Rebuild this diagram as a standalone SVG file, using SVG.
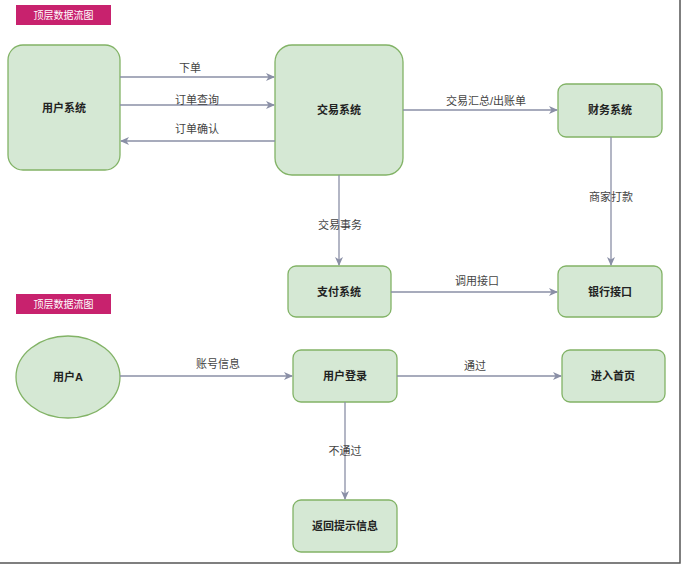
<svg xmlns="http://www.w3.org/2000/svg" width="683" height="567" viewBox="0 0 683 567">
<style>
.n{fill:#d5e8d4;stroke:#82b366;stroke-width:1.3}
.t{font-family:"Liberation Sans","Noto Sans CJK SC",sans-serif;font-size:11px;font-weight:bold;fill:#222;text-anchor:middle}
.l{font-family:"Liberation Sans","Noto Sans CJK SC",sans-serif;font-size:11px;fill:#444;text-anchor:middle}
.e{stroke:#8a8fa6;stroke-width:1.3;fill:none;marker-end:url(#a)}
.b{fill:#c8226e}
.bt{font-family:"Liberation Sans","Noto Sans CJK SC",sans-serif;font-size:10px;fill:#fff;text-anchor:middle}
</style>
<defs>
<marker id="a" markerWidth="10" markerHeight="10" refX="8" refY="5" orient="auto" markerUnits="userSpaceOnUse">
<path d="M0,1 L9,5 L0,9 L2.5,5 Z" fill="#8a8fa6"/>
</marker>
</defs>
<rect width="683" height="567" fill="#fff"/>
<g id="frame" stroke="#555" stroke-width="1.5" fill="none">
<path d="M680,0 V563 H0"/>
</g>
<g id="title1"><rect class="b" x="16" y="5" width="95" height="20"/><text class="bt" x="63.5" y="19">顶层数据流图</text></g>
<g id="title2"><rect class="b" x="16" y="294" width="95" height="20"/><text class="bt" x="63.5" y="308">顶层数据流图</text></g>
<g id="user-sys"><rect class="n" x="8" y="45" width="112" height="125" rx="15"/><text class="t" x="64" y="112">用户系统</text></g>
<g id="trade-sys"><rect class="n" x="275" y="45" width="128" height="130" rx="17"/><text class="t" x="339" y="114">交易系统</text></g>
<g id="finance-sys"><rect class="n" x="558" y="84" width="104" height="53" rx="8"/><text class="t" x="610" y="114">财务系统</text></g>
<g id="pay-sys"><rect class="n" x="288" y="266" width="103" height="51" rx="8"/><text class="t" x="339" y="296">支付系统</text></g>
<g id="bank"><rect class="n" x="558" y="266" width="104" height="51" rx="8"/><text class="t" x="610" y="296">银行接口</text></g>
<g id="user-a"><ellipse class="n" cx="68" cy="377" rx="52" ry="41"/><text class="t" x="68" y="381">用户A</text></g>
<g id="login"><rect class="n" x="293" y="350" width="104" height="52" rx="8"/><text class="t" x="345" y="380">用户登录</text></g>
<g id="home"><rect class="n" x="562" y="350" width="103" height="52" rx="8"/><text class="t" x="613" y="380">进入首页</text></g>
<g id="error"><rect class="n" x="293" y="500" width="104" height="52" rx="8"/><text class="t" x="345" y="530">返回提示信息</text></g>
<g id="connectors">
<path class="e" d="M120,77 H274"/>
<path class="e" d="M120,105 H274"/>
<path class="e" d="M275,141 H121"/>
<path class="e" d="M403,110 H557"/>
<path class="e" d="M339,175 V265"/>
<path class="e" d="M611,137 V265"/>
<path class="e" d="M391,292 H557"/>
<path class="e" d="M120,376 H292"/>
<path class="e" d="M397,376 H561"/>
<path class="e" d="M345,402 V499"/>
</g>
<g id="labels">
<text class="l" x="190" y="72">下单</text>
<text class="l" x="197" y="104">订单查询</text>
<text class="l" x="197" y="133">订单确认</text>
<text class="l" x="486" y="105">交易汇总/出账单</text>
<text class="l" x="340" y="229">交易事务</text>
<text class="l" x="611" y="201">商家打款</text>
<text class="l" x="477" y="285">调用接口</text>
<text class="l" x="218" y="368">账号信息</text>
<text class="l" x="475" y="370">通过</text>
<text class="l" x="345" y="455">不通过</text>
</g>
</svg>
